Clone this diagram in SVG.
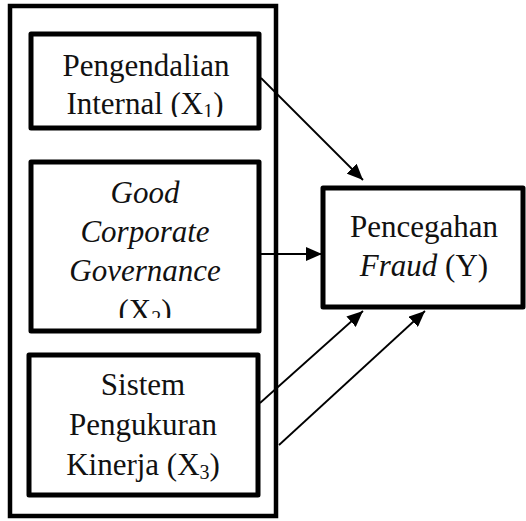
<svg xmlns="http://www.w3.org/2000/svg" width="526" height="521" viewBox="0 0 526 521">
<style>
.box{fill:#fff;stroke:#000;stroke-width:5;stroke-linejoin:round}
.outer{fill:none;stroke:#000;stroke-width:4.5}
.t{font-family:"Liberation Serif","DejaVu Serif",serif;font-size:31px;fill:#111;text-anchor:middle}
.i{font-style:italic}
.sub{font-size:20px}
.con{stroke:#000;stroke-width:1.8;fill:none;marker-end:url(#ah)}
</style>
<defs>
<marker id="ah" markerUnits="userSpaceOnUse" markerWidth="18" markerHeight="14" refX="16" refY="7" orient="auto">
<path d="M0,0 L16,7 L0,14 Z" fill="#000"/>
</marker>
<clipPath id="c1"><rect x="0" y="0" width="526" height="117"/></clipPath>
<clipPath id="c2"><rect x="0" y="0" width="526" height="318"/></clipPath>
</defs>
<rect class="outer" x="10" y="6" width="266" height="510"/>
<g id="x1">
<rect class="box" x="31" y="34" width="228" height="94"/>
<text class="t" x="146" y="76">Pengendalian</text>
<text class="t" x="145" y="114" clip-path="url(#c1)">Internal (X<tspan class="sub" dy="4">1</tspan><tspan dy="-4">)</tspan></text>
</g>
<g id="x2">
<rect class="box" x="31" y="162" width="228" height="169"/>
<text class="t i" x="145" y="203">Good</text>
<text class="t i" x="145" y="242">Corporate</text>
<text class="t i" x="145" y="281">Governance</text>
<text class="t" x="145" y="321" clip-path="url(#c2)">(X<tspan class="sub" dy="4">2</tspan><tspan dy="-4">)</tspan></text>
</g>
<g id="x3">
<rect class="box" x="29" y="355" width="229" height="140"/>
<text class="t" x="143" y="395">Sistem</text>
<text class="t" x="143" y="435">Pengukuran</text>
<text class="t" x="143" y="475">Kinerja (X<tspan class="sub" dy="4">3</tspan><tspan dy="-4">)</tspan></text>
</g>
<g id="y">
<rect class="box" x="323" y="188" width="200" height="119"/>
<text class="t" x="424" y="237">Pencegahan</text>
<text class="t" x="424" y="276"><tspan class="i">Fraud</tspan> (Y)</text>
</g>
<g id="connectors">
<line class="con" x1="261" y1="78" x2="363" y2="180"/>
<line class="con" x1="259" y1="254" x2="322" y2="254"/>
<line class="con" x1="260" y1="403" x2="363" y2="311"/>
<line class="con" x1="279" y1="445" x2="425" y2="311"/>
</g>
</svg>
